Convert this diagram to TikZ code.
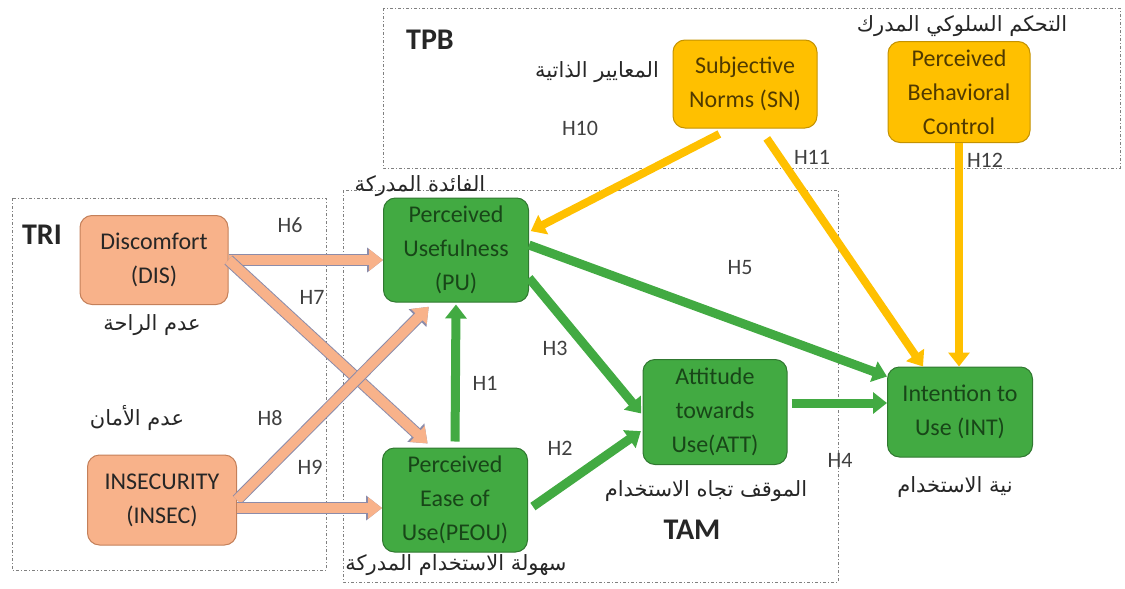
\documentclass[tikz,border=0pt]{standalone}
\usepackage{fontspec}
\setmainfont{Carlito}
\newfontfamily\arabicfont[Script=Arabic]{DejaVu Sans}
\TeXXeTstate=1
\usetikzlibrary{positioning,arrows.meta,calc}

\definecolor{tamgreen}{RGB}{66,170,66}
\definecolor{tamedge}{RGB}{48,120,48}
\definecolor{tamtext}{RGB}{24,70,24}
\definecolor{triorange}{RGB}{248,178,138}
\definecolor{triedge}{RGB}{196,128,90}
\definecolor{tririm}{RGB}{140,140,170}
\definecolor{tpbyellow}{RGB}{255,192,0}
\definecolor{tpbedge}{RGB}{196,146,0}
\definecolor{tpbtext}{RGB}{80,58,0}

\newcommand{\arabtxt}[1]{{\arabicfont\fontsize{21}{25}\selectfont\beginR #1\endR}}

\begin{document}
\begin{tikzpicture}[x=1pt,y=-1pt,
  every node/.style={font=\fontsize{24}{34}\selectfont, text=black!85},
  box/.style={rounded corners=12pt, align=center, minimum width=145pt, minimum height=104pt, inner sep=1pt, line width=1pt},
  tamnode/.style={box, fill=tamgreen, draw=tamedge, text=tamtext},
  trinode/.style={box, fill=triorange, draw=triedge, minimum width=148pt, minimum height=89pt},
  tpbnode/.style={box, fill=tpbyellow, draw=tpbedge, text=tpbtext},
  frame/.style={draw=gray, line width=0.8pt, dash pattern=on 3pt off 2pt on 1pt off 2pt},
  hyp/.style={font=\fontsize{22}{26}\selectfont, text=black!75},
  group/.style={font=\fontsize{30}{34}\selectfont\bfseries},
  link/.style={line width=9pt, -{Triangle[width=21pt,length=14pt]}},
  orangelink/.style={link, line width=10pt, draw=triorange, preaction={draw=tririm, line width=12pt, -{Triangle[width=24pt,length=16pt]}}},
  greenlink/.style={link, draw=tamgreen},
  yellowlink/.style={link, line width=8pt, draw=tpbyellow}
]
  \useasboundingbox (0,0) rectangle (1125,589);

  % model frames
  \draw[frame] (383,8) rectangle (1120,168);
  \draw[frame] (343,190) rectangle (838,582);
  \draw[frame] (12,198) rectangle (326,570);

  % TPB
  \node[tpbnode, minimum width=144pt, minimum height=88pt] (sn) at (745,84) {Subjective\\Norms (SN)};
  \node[tpbnode, minimum width=142pt, minimum height=101pt] (pbc) at (959,92) {Perceived\\Behavioral\\Control};

  % TAM
  \node[tamnode] (pu) at (456,250) {Perceived\\Usefulness\\(PU)};
  \node[tamnode] (peou) at (455,500) {Perceived\\Ease of\\Use(PEOU)};
  \node[tamnode, minimum width=144pt, minimum height=105pt] (att) at (715,412) {Attitude\\towards\\Use(ATT)};
  \node[tamnode, minimum width=145pt, minimum height=90pt] (int) at (960,412) {Intention to\\Use (INT)};

  % TRI
  \node[trinode] (dis) at (154,260) {Discomfort\\(DIS)};
  \node[trinode, minimum width=149pt, minimum height=90pt] (insec) at (162,500) {INSECURITY\\(INSEC)};

  % arrows
  \draw[orangelink] (dis.east) -- (dis.east -| pu.west);
  \draw[orangelink, shorten >=6pt] (dis.east) -- ([xshift=-23pt]peou.north);
  \draw[orangelink, shorten >=6pt] (insec.east) -- ([xshift=-23pt]pu.south);
  \draw[orangelink] ([yshift=-8pt]insec.east) -- ([yshift=-8pt]insec.east -| peou.west);
  \draw[greenlink, shorten <=6pt, shorten >=2pt] (peou.north) -- (pu.south);
  \draw[greenlink, shorten >=2pt] ([yshift=-28pt]pu.east) -- ([yshift=-3pt]att.west);
  \draw[greenlink, shorten <=6pt, shorten >=2pt] ([yshift=-10pt]peou.east) -- ([yshift=-18pt]att.west);
  \draw[greenlink] ([yshift=5pt]pu.east) -- ([yshift=-10pt]int.north west);
  \draw[greenlink, shorten <=4pt] ([yshift=9pt]att.east) -- ([yshift=9pt]att.east -| int.west);
  \draw[yellowlink, shorten <=12pt, shorten >=2pt] ([xshift=-15pt]sn.south) -- ([yshift=18pt]pu.east);
  \draw[yellowlink, shorten <=12pt] ([xshift=15pt]sn.south) -- ([xshift=-37pt]int.north);
  \draw[yellowlink] (pbc.south) -- (pbc.south |- int.north);

  % group titles
  \node[group] at (430,40) {TPB};
  \node[group] at (42,235) {TRI};
  \node[group] at (692,530) {TAM};

  % hypothesis labels
  \node[hyp] at (580,128) {H10};
  \node[hyp] at (812,157) {H11};
  \node[hyp] at (985,160) {H12};
  \node[hyp] at (290,225) {H6};
  \node[hyp] at (312,297) {H7};
  \node[hyp] at (740,268) {H5};
  \node[hyp] at (555,348) {H3};
  \node[hyp] at (485,383) {H1};
  \node[hyp] at (560,448) {H2};
  \node[hyp] at (270,418) {H8};
  \node[hyp] at (310,467) {H9};
  \node[hyp] at (840,460) {H4};

  % arabic captions
  \node at (962,26) {\arabtxt{التحكم السلوكي المدرك}};
  \node at (597,72) {\arabtxt{المعايير الذاتية}};
  \node at (420,186) {\arabtxt{الفائدة المدركة}};
  \node at (152,325) {\arabtxt{عدم الراحة}};
  \node at (137,418) {\arabtxt{عدم الأمان}};
  \node at (706,491) {\arabtxt{الموقف تجاه الاستخدام}};
  \node at (955,487) {\arabtxt{نية الاستخدام}};
  \node at (456,565) {\arabtxt{سهولة الاستخدام المدركة}};
\end{tikzpicture}
\end{document}
